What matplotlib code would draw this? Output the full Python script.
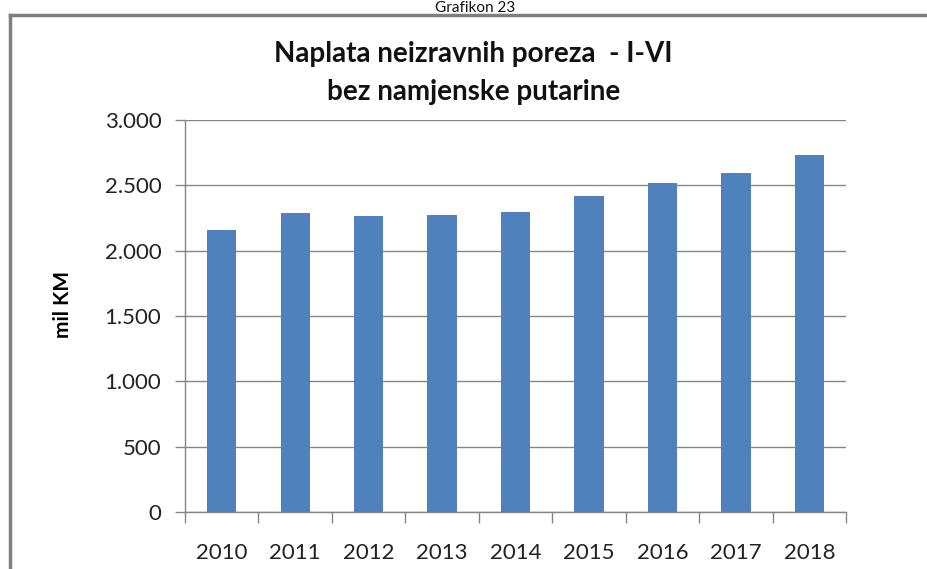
import numpy as np
import matplotlib
matplotlib.use("Agg")
import matplotlib.pyplot as plt
from matplotlib.lines import Line2D
from matplotlib.ticker import FuncFormatter

# data (mil KM)
years = ["2010", "2011", "2012", "2013", "2014", "2015", "2016", "2017", "2018"]
values = [2158, 2286, 2265, 2273, 2295, 2418, 2520, 2597, 2732]
y_ticks = [0, 500, 1000, 1500, 2000, 2500, 3000]

plt.rcParams["font.family"] = ["Lato", "DejaVu Sans"]

fig = plt.figure(figsize=(9.28, 5.69), dpi=100)
ax = fig.add_axes([0.1994, 0.1002, 0.7123, 0.6889])

grey = "#868686"
x = np.arange(len(years))
ax.bar(x, values, width=0.4, color="#4F81BD", zorder=3)

ax.set_xlim(-0.5, len(years) - 0.5)
ax.set_ylim(0, 3000)
ax.set_yticks(y_ticks)
ax.yaxis.set_major_formatter(FuncFormatter(lambda v, _: f"{int(v):,}".replace(",", ".")))
ax.grid(axis="y", color=grey, linewidth=1.0, zorder=0)

# category labels centered, tick marks on category boundaries
ax.set_xticks(x)
ax.set_xticklabels(years)
ax.tick_params(axis="x", length=0, labelsize=16, pad=22, colors="#222222")
ax.set_xticks(np.arange(len(years) + 1) - 0.5, minor=True)
ax.tick_params(axis="x", which="minor", length=8, width=1, color=grey, direction="out")
ax.tick_params(axis="y", length=7, width=1, color=grey, labelsize=16, pad=10, labelcolor="#222222")

for side in ["top", "right"]:
    ax.spines[side].set_visible(False)
for side in ["left", "bottom"]:
    ax.spines[side].set_color(grey)
    ax.spines[side].set_linewidth(1)

ax.set_ylabel("mil KM", fontsize=15, fontweight="bold")
ax.yaxis.set_label_coords(-0.17, 0.53)

fig.text(0.51, 1 - 73 / 569, "Naplata neizravnih poreza  - I-VI\nbez namjenske putarine",
         ha="center", va="center", fontsize=20, fontweight="bold",
         linespacing=1.55, color="#111111")

# outer frame (top and left edges visible) and caption above it
fig.add_artist(Line2D([0.011, 1.0], [1 - 15 / 569, 1 - 15 / 569], color="#7f7f7f", linewidth=2.5))
fig.add_artist(Line2D([0.011, 0.011], [0.0, 1 - 15 / 569], color="#7f7f7f", linewidth=2.5))
fig.text(0.512, 1 - 0.5 / 569, "Grafikon 23", ha="center", va="top", fontsize=11, color="#111111")

fig.savefig("out.png", dpi=100)
